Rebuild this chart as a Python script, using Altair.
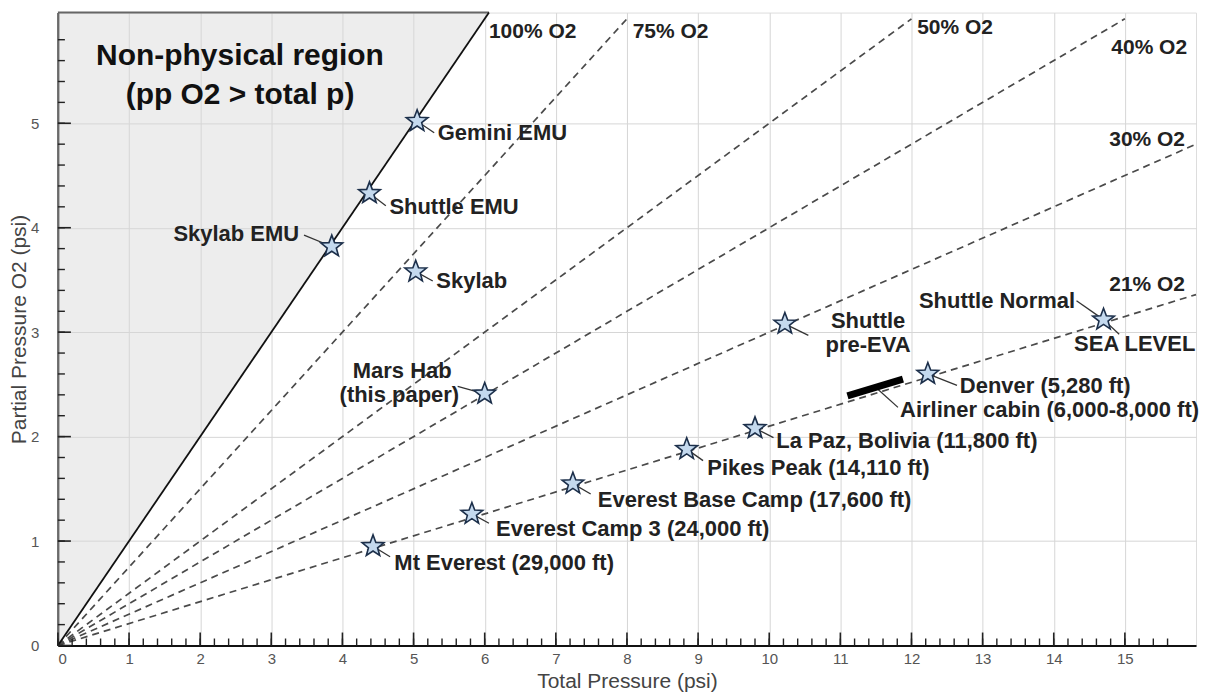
import altair as alt
import pandas as pd
import numpy as np

# ---------------- data ----------------
star_names = ["Gemini EMU", "Shuttle EMU", "Skylab EMU", "Skylab", "Mars Hab",
              "Shuttle pre-EVA", "Shuttle Normal / Sea level", "Denver", "La Paz",
              "Pikes Peak", "Everest Base Camp", "Everest Camp 3", "Mt Everest"]
star_total = [5.05, 4.38, 3.85, 5.03, 6.0, 10.22, 14.7, 12.23, 9.8, 8.84, 7.24, 5.82, 4.43]
star_po2 = [5.02, 4.33, 3.82, 3.58, 2.41, 3.08, 3.12, 2.60, 2.08, 1.88, 1.55, 1.26, 0.95]

# label text, anchor position and alignment
label_text = ["Gemini EMU", "Shuttle EMU", "Skylab EMU", "Skylab", "Mars Hab", "(this paper)",
              "Shuttle", "pre-EVA", "Shuttle Normal", "SEA LEVEL", "Denver (5,280 ft)",
              "Airliner cabin (6,000-8,000 ft)", "La Paz, Bolivia (11,800 ft)",
              "Pikes Peak (14,110 ft)", "Everest Base Camp (17,600 ft)",
              "Everest Camp 3 (24,000 ft)", "Mt Everest (29,000 ft)"]
label_x = [5.34, 4.66, 3.39, 5.32, 4.84, 4.80, 11.39, 11.39, 14.30, 15.99, 12.68,
           11.84, 10.10, 9.13, 7.59, 6.16, 4.73]
label_y = [4.91, 4.20, 3.94, 3.49, 2.63, 2.40, 3.11, 2.88, 3.30, 2.89, 2.48,
           2.25, 1.96, 1.70, 1.39, 1.12, 0.79]
label_align = ["left", "left", "right", "left", "center", "center", "center", "center",
               "right", "right", "left", "left", "left", "left", "left", "left", "left"]

# leader lines (from, to)
leader_x1 = [5.05, 4.38, 3.85, 5.03, 6.0, 10.22, 14.7, 14.7, 12.23, 11.50, 9.8, 8.84, 7.24, 5.82, 4.43]
leader_y1 = [5.02, 4.33, 3.82, 3.58, 2.41, 3.08, 3.12, 3.12, 2.60, 2.47, 2.08, 1.88, 1.55, 1.26, 0.95]
leader_x2 = [5.29, 4.61, 3.46, 5.27, 5.62, 10.55, 14.32, 14.92, 12.64, 11.81, 10.06, 9.07, 7.49, 6.06, 4.67]
leader_y2 = [4.91, 4.21, 3.93, 3.49, 2.48, 2.97, 3.30, 2.98, 2.49, 2.28, 1.99, 1.77, 1.45, 1.17, 0.85]

# airliner cabin range
airliner_x = [11.10, 11.88]
airliner_y = [2.39, 2.55]

# O2 fraction lines
frac_names = ["75% O2", "50% O2", "40% O2", "30% O2", "21% O2"]
frac_values = [0.75, 0.50, 0.40, 0.30, 0.21]
frac_xend = [8.0, 12.0, 15.0, 16.0, 16.0]
frac_label_x = [8.08, 12.08, 14.81, 14.78, 14.78]
frac_label_y = [5.87, 5.91, 5.72, 4.84, 3.45]

pure_label = "100% O2"
pure_label_x, pure_label_y = 6.06, 5.87

region_text = ["Non-physical region", "(pp O2 > total p)"]
region_x = [2.56, 2.56]
region_y = [5.64, 5.27]

X_MAX = 16.0
Y_MAX = 6.06
x_major = list(range(0, 16))
y_major = list(range(0, 6))
x_minor = [round(v, 1) for v in np.arange(0, 15.7, 0.2)]
y_minor = [round(v, 1) for v in np.arange(0, 5.9, 0.2)]

W, H = 1140, 634
FONT = "Liberation Sans"

xs = alt.Scale(domain=[0, X_MAX], nice=False, zero=True)
ys = alt.Scale(domain=[0, Y_MAX], nice=False, zero=True)

# ---------------- layers ----------------
region_df = pd.DataFrame({"x": [0, Y_MAX], "y": [0, Y_MAX], "y2": [Y_MAX, Y_MAX]})
region = alt.Chart(region_df).mark_area(color="#d8d8d8", opacity=0.45).encode(
    x=alt.X("x:Q", scale=xs,
            axis=alt.Axis(values=x_major, format="d", grid=True, gridColor="#d6d6d6",
                          gridWidth=1, ticks=False, tickSize=0, domainColor="#111",
                          domainWidth=2, labelFontSize=15, labelColor="#555", labelPadding=6,
                          labelFont=FONT, title="Total Pressure (psi)", titleFontSize=21,
                          titleFontWeight="normal", titleColor="#444", titlePadding=4,
                          titleFont=FONT)),
    y=alt.Y("y:Q", scale=ys,
            axis=alt.Axis(values=y_major, format="d", grid=True, gridColor="#d6d6d6",
                          gridWidth=1, ticks=False, tickSize=0, domainColor="#111",
                          domainWidth=2, labelFontSize=15, labelColor="#555", labelPadding=19,
                          labelFont=FONT, title="Partial Pressure O2 (psi)", titleFontSize=21,
                          titleFontWeight="normal", titleColor="#444", titlePadding=1,
                          titleFont=FONT)),
    y2="y2:Q",
)

top_edge = alt.Chart(pd.DataFrame({"x": [0], "x2": [Y_MAX], "y": [Y_MAX]})).mark_rule(
    color="#666", strokeWidth=2).encode(x=alt.X("x:Q", scale=xs), x2="x2:Q",
                                         y=alt.Y("y:Q", scale=ys))

pure_line = alt.Chart(pd.DataFrame({"x": [0], "y": [0], "x2": [Y_MAX], "y2": [Y_MAX]})).mark_rule(
    color="#111", strokeWidth=1.8).encode(x=alt.X("x:Q", scale=xs), y=alt.Y("y:Q", scale=ys),
                                          x2="x2:Q", y2="y2:Q")

frac_df = pd.DataFrame({"name": frac_names, "frac": frac_values, "xend": frac_xend})
frac_df["x"] = 0.0
frac_df["y"] = 0.0
frac_df["yend"] = frac_df["frac"] * frac_df["xend"]
frac_lines = alt.Chart(frac_df).mark_rule(color="#4a4a4a", strokeWidth=1.7,
                                          strokeDash=[7, 5]).encode(
    x=alt.X("x:Q", scale=xs), y=alt.Y("y:Q", scale=ys), x2="xend:Q", y2="yend:Q")

# inward tick marks
xmaj_df = pd.DataFrame({"v": x_major})
xmin_df = pd.DataFrame({"v": x_minor})
ymaj_df = pd.DataFrame({"v": y_major})
ymin_df = pd.DataFrame({"v": y_minor})
xt_major = alt.Chart(xmaj_df).mark_rule(color="#222", strokeWidth=1.6).encode(
    x=alt.X("v:Q", scale=xs), y=alt.value(H), y2=alt.value(H - 13))
xt_minor = alt.Chart(xmin_df).mark_rule(color="#222", strokeWidth=1.4).encode(
    x=alt.X("v:Q", scale=xs), y=alt.value(H), y2=alt.value(H - 7))
yt_major = alt.Chart(ymaj_df).mark_rule(color="#222", strokeWidth=1.6).encode(
    y=alt.Y("v:Q", scale=ys), x=alt.value(0), x2=alt.value(13))
yt_minor = alt.Chart(ymin_df).mark_rule(color="#222", strokeWidth=1.4).encode(
    y=alt.Y("v:Q", scale=ys), x=alt.value(0), x2=alt.value(7))

leader_df = pd.DataFrame({"x": leader_x1, "y": leader_y1, "x2": leader_x2, "y2": leader_y2})
leaders = alt.Chart(leader_df).mark_rule(color="#333", strokeWidth=1.3).encode(
    x=alt.X("x:Q", scale=xs), y=alt.Y("y:Q", scale=ys), x2="x2:Q", y2="y2:Q")

air_df = pd.DataFrame({"x": [airliner_x[0]], "y": [airliner_y[0]],
                       "x2": [airliner_x[1]], "y2": [airliner_y[1]]})
airliner = alt.Chart(air_df).mark_rule(color="#000", strokeWidth=7).encode(
    x=alt.X("x:Q", scale=xs), y=alt.Y("y:Q", scale=ys), x2="x2:Q", y2="y2:Q")

STAR = ("M0,-1 L0.247,-0.340 L0.951,-0.309 L0.399,0.130 L0.588,0.809 L0,0.42 "
        "L-0.588,0.809 L-0.399,0.130 L-0.951,-0.309 L-0.247,-0.340 Z")
star_df = pd.DataFrame({"name": star_names, "x": star_total, "y": star_po2})
stars = alt.Chart(star_df).mark_point(shape=STAR, size=520, filled=True, fill="#c4d9ee",
                                      stroke="#1c2f4a", strokeWidth=1.6, opacity=1).encode(
    x=alt.X("x:Q", scale=xs), y=alt.Y("y:Q", scale=ys))

lab_df = pd.DataFrame({"t": label_text, "x": label_x, "y": label_y, "a": label_align})
text_layers = []
for al in ["left", "right", "center"]:
    sub = lab_df[lab_df["a"] == al]
    text_layers.append(
        alt.Chart(sub).mark_text(align=al, baseline="middle", font=FONT, fontSize=22,
                                 fontWeight="bold", color="#222").encode(
            x=alt.X("x:Q", scale=xs), y=alt.Y("y:Q", scale=ys), text="t:N"))

frac_lab_df = pd.DataFrame({"t": [pure_label] + frac_names,
                            "x": [pure_label_x] + frac_label_x,
                            "y": [pure_label_y] + frac_label_y})
frac_labels = alt.Chart(frac_lab_df).mark_text(align="left", baseline="middle", font=FONT,
                                               fontSize=21, fontWeight="bold",
                                               color="#222").encode(
    x=alt.X("x:Q", scale=xs), y=alt.Y("y:Q", scale=ys), text="t:N")

region_lab_df = pd.DataFrame({"t": region_text, "x": region_x, "y": region_y})
region_labels = alt.Chart(region_lab_df).mark_text(align="center", baseline="middle",
                                                   font=FONT, fontSize=30, fontWeight="bold",
                                                   color="#111").encode(
    x=alt.X("x:Q", scale=xs), y=alt.Y("y:Q", scale=ys), text="t:N")

chart = alt.layer(region, top_edge, frac_lines, pure_line, xt_major, xt_minor, yt_major,
                  yt_minor, leaders, airliner, stars, *text_layers, frac_labels,
                  region_labels).properties(
    width=W, height=H, padding={"left": 0, "top": 3, "right": 0, "bottom": 0},
    background="white"
).configure_view(stroke=None).configure(font=FONT)

chart.save("out.html", embed_options={"renderer": "svg", "actions": False})
